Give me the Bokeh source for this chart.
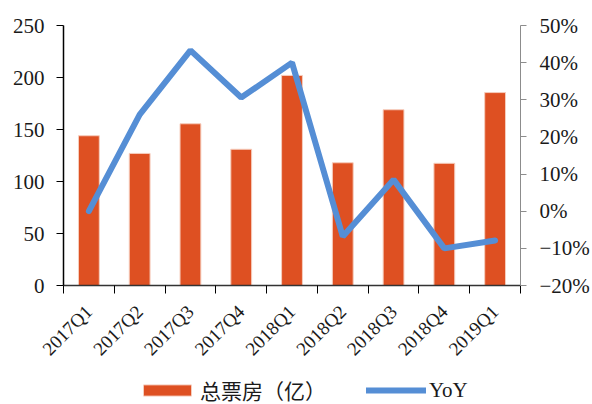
import math
from bokeh.plotting import figure
from bokeh.layouts import column
from bokeh.models import Range1d, LinearAxis, FixedTicker, Legend, LegendItem, ColumnDataSource
from bokeh.embed import file_html
from bokeh.resources import INLINE

quarters = ["2017Q1", "2017Q2", "2017Q3", "2017Q4", "2018Q1",
            "2018Q2", "2018Q3", "2018Q4", "2019Q1"]
box_office = [144, 127, 155.5, 131, 202, 118, 169, 117.5, 185.5]
yoy = [0.0, 26.0, 43.3, 30.6, 40.0, -6.8, 8.5, -10.0, -7.9]
left_ticks = [0, 50, 100, 150, 200, 250]
right_ticks = [-20, -10, 0, 10, 20, 30, 40, 50]
right_labels = ["−20%", "−10%", "0%", "10%", "20%", "30%", "40%", "50%"]
series_names = ["总票房（亿）", "YoY"]

n = len(quarters)
pos = [i + 0.5 for i in range(n)]
bounds = [float(i) for i in range(n + 1)]
src = ColumnDataSource(dict(x=pos, q=quarters, bo=box_office, yoy=yoy))

SERIF = "Liberation Serif"
TXT = "#1a1a1a"
BAR_FILL = "#DE5022"
BAR_EDGE = "#F6CDBD"
LINE_C = "#558ED5"

p = figure(width=592, height=370, output_backend="svg", toolbar_location=None,
           x_range=Range1d(0, n), y_range=Range1d(0, 250),
           min_border_left=63, min_border_right=70, min_border_top=25,
           min_border_bottom=85)
p.extra_y_ranges = {"pct": Range1d(-20, 50)}
p.grid.visible = False
p.outline_line_color = None

bars = p.vbar(x="x", top="bo", width=0.41, source=src,
              fill_color=BAR_FILL, line_color=BAR_EDGE, line_width=1)
line = p.line(x="x", y="yoy", source=src, y_range_name="pct",
              line_width=6, line_color=LINE_C, line_cap="round")

# left axis
ya = p.yaxis[0]
ya.ticker = FixedTicker(ticks=left_ticks)
ya.major_tick_out = 7
ya.major_tick_in = 0
ya.minor_tick_out = 0
ya.minor_tick_in = 0
ya.axis_line_color = "black"
ya.major_tick_line_color = "black"
ya.axis_line_width = 1.5
ya.major_label_standoff = 12
ya.major_label_text_font = SERIF
ya.major_label_text_font_size = "21px"
ya.major_label_text_color = TXT

# right axis
ra = LinearAxis(y_range_name="pct", ticker=FixedTicker(ticks=right_ticks),
                major_label_overrides=dict(zip(right_ticks, right_labels)))
ra.major_tick_out = 6
ra.major_tick_in = 0
ra.minor_tick_out = 0
ra.minor_tick_in = 0
ra.axis_line_color = "#8c8c8c"
ra.major_tick_line_color = "#8c8c8c"
ra.major_label_standoff = 13
ra.major_label_text_font = SERIF
ra.major_label_text_font_size = "21px"
ra.major_label_text_color = TXT
p.add_layout(ra, "right")

# bottom axis
xa = p.xaxis[0]
xa.ticker = FixedTicker(ticks=pos, minor_ticks=bounds)
xa.major_label_overrides = dict(zip(pos, quarters))
xa.major_tick_out = 0
xa.major_tick_in = 0
xa.minor_tick_out = 8
xa.minor_tick_in = 0
xa.minor_tick_line_color = "black"
xa.axis_line_color = "#333333"
xa.axis_line_width = 1.5
xa.major_label_orientation = math.pi / 4
xa.major_label_standoff = 15
xa.major_label_text_font = SERIF
xa.major_label_text_font_size = "19px"
xa.major_label_text_color = TXT

# legend strip (separate figure below the chart; its glyphs are hidden)
lg = figure(width=592, height=34, output_backend="svg", toolbar_location=None,
            x_range=Range1d(0, n), y_range=Range1d(0, 1),
            x_axis_location=None, y_axis_location=None, min_border=0)
lg.grid.visible = False
lg.outline_line_color = None
lbar = lg.vbar(x="x", top="bo", width=0.41, source=src, fill_color=BAR_FILL,
               line_color=BAR_EDGE, line_width=1, visible=False)
lline = lg.line(x="x", y="yoy", source=src, line_width=6, line_color=LINE_C,
                line_cap="round", visible=False)
legend = Legend(items=[LegendItem(label=series_names[0], renderers=[lbar]),
                       LegendItem(label=series_names[1], renderers=[lline])],
                orientation="horizontal", location=(74, -1),
                glyph_width=60, glyph_height=14, label_standoff=3, spacing=40,
                padding=0, margin=0, border_line_color=None,
                background_fill_alpha=0, inactive_fill_alpha=0,
                label_text_font="Liberation Serif, Noto Sans CJK SC",
                label_text_font_size="21px", label_text_color=TXT)
lg.add_layout(legend, "center")

layout = column(p, lg, spacing=0)
open("out.html", "w").write(file_html(layout, INLINE))
